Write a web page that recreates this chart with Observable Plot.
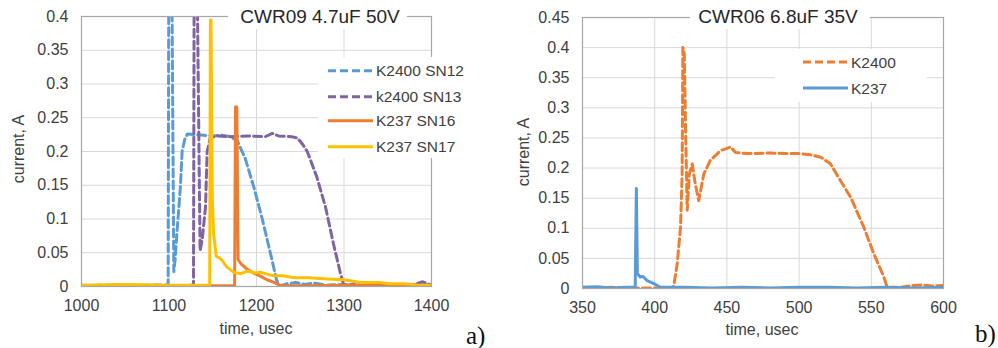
<!DOCTYPE html>
<html>
<head>
<meta charset="utf-8">
<script src="https://cdn.jsdelivr.net/npm/d3@7"></script>
<script src="https://cdn.jsdelivr.net/npm/@observablehq/plot@0.6"></script>
<style>
  html, body { margin: 0; padding: 0; background: #fff; }
  #wrap { position: relative; width: 998px; height: 348px; overflow: hidden; }
  #left, #right { position: absolute; top: 0; }
  #left { left: 0; }
  #right { left: 500px; }
</style>
</head>
<body>
<div id="wrap"><div id="left"></div><div id="right"></div></div>
<script>
// ---------- Panel a) CWR09 4.7uF 50V ----------
const xTicksA = [1000, 1100, 1200, 1300, 1400];
const yTicksA = [0, 0.05, 0.1, 0.15, 0.2, 0.25, 0.3, 0.35, 0.4];
const seriesNamesA = ["K2400 SN12", "k2400 SN13", "K237 SN16", "K237 SN17"];

const sn12T = [1000, 1020, 1040, 1060, 1080, 1099, 1100, 1102.5, 1105.5, 1107, 1109, 1113, 1115, 1118, 1121, 1130, 1140, 1150, 1160, 1170, 1178, 1187, 1197, 1206, 1216, 1223, 1227, 1235, 1245, 1255, 1265, 1280, 1300, 1320, 1340, 1360, 1380, 1400];
const sn12V = [0.002, 0.001, 0.002, 0.001, 0.002, 0.002, 0.6, 0.6, 0.022, 0.04, 0.078, 0.147, 0.2, 0.218, 0.226, 0.225, 0.224, 0.223, 0.224, 0.222, 0.216, 0.19, 0.147, 0.103, 0.049, 0.009, 0.001, 0.004, 0.006, 0.003, 0.005, 0.002, 0.003, 0.002, 0.004, 0.002, 0.003, 0.002];

const sn13T = [1000, 1030, 1060, 1090, 1110, 1128, 1129, 1131, 1135.5, 1138, 1141.7, 1143.6, 1147, 1155, 1170, 1190, 1210, 1218, 1225, 1240, 1247, 1253, 1258, 1269, 1279, 1288, 1296, 1300, 1310, 1320, 1330, 1340, 1360, 1380, 1390, 1400];
const sn13V = [0.001, 0.002, 0.001, 0.002, 0.001, 0.002, 0.6, 0.6, 0.053, 0.07, 0.117, 0.2, 0.22, 0.223, 0.222, 0.223, 0.222, 0.227, 0.223, 0.222, 0.22, 0.21, 0.2, 0.162, 0.117, 0.063, 0.019, 0.001, 0.003, 0.002, 0.006, 0.003, 0.002, 0.003, 0.007, 0.002];

const sn16T = [1000, 1050, 1100, 1150, 1175, 1176, 1177.5, 1179, 1182, 1189, 1198, 1205, 1212, 1220, 1228, 1260, 1300, 1350, 1400];
const sn16V = [0.001, 0.002, 0.001, 0.001, 0.001, 0.266, 0.266, 0.04, 0.034, 0.026, 0.019, 0.015, 0.01, 0.006, 0.001, 0.001, 0.002, 0.001, 0.002];

const sn17T = [1000, 1050, 1100, 1146.5, 1147.3, 1148, 1149.5, 1151, 1154, 1160, 1166, 1174, 1182, 1190, 1198, 1205, 1213, 1220, 1230, 1243, 1260, 1281, 1300, 1319, 1340, 1353, 1370, 1385, 1400];
const sn17V = [0.002, 0.003, 0.002, 0.002, 0.395, 0.395, 0.13, 0.078, 0.045, 0.04, 0.029, 0.021, 0.019, 0.023, 0.02, 0.021, 0.018, 0.016, 0.016, 0.013, 0.013, 0.011, 0.01, 0.006, 0.006, 0.004, 0.004, 0.002, 0.002];

// ---------- Panel b) CWR06 6.8uF 35V ----------
const xTicksB = [350, 400, 450, 500, 550, 600];
const yTicksB = [0, 0.05, 0.1, 0.15, 0.2, 0.25, 0.3, 0.35, 0.4, 0.45];
const seriesNamesB = ["K2400", "K237"];

const k2400T = [350, 360, 370, 380, 390, 400, 410, 413, 415.6, 417.9, 419, 419.5, 420.5, 421.5, 422.5, 424, 426, 428, 430.5, 434, 438.6, 445.6, 452.5, 456, 464, 480, 490, 501, 508, 515, 521.7, 528.7, 535.6, 544.8, 551.7, 558.7, 561, 570, 578, 585, 592, 600];
const k2400V = [0.002, 0.001, 0.002, 0.001, 0.001, 0.001, 0.001, 0.002, 0.041, 0.102, 0.19, 0.4, 0.39, 0.25, 0.13, 0.19, 0.207, 0.175, 0.146, 0.19, 0.213, 0.229, 0.235, 0.226, 0.224, 0.225, 0.224, 0.224, 0.222, 0.218, 0.207, 0.179, 0.152, 0.102, 0.058, 0.019, 0.002, 0.002, 0.005, 0.006, 0.004, 0.005];

const k237T = [350, 360, 370, 380, 386.5, 387.3, 388, 390, 392, 394.8, 399.4, 404, 420, 440, 460, 480, 500, 520, 540, 560, 580, 600];
const k237V = [0.002, 0.003, 0.001, 0.002, 0.002, 0.166, 0.025, 0.019, 0.02, 0.013, 0.008, 0.002, 0.002, 0.001, 0.002, 0.001, 0.002, 0.002, 0.001, 0.002, 0.001, 0.002];

// ---------- helpers ----------
const FONT = "'Liberation Sans', Arial, sans-serif";
const rows = (T, V) => T.map((t, i) => ({t, v: V[i]}));
const fmtY = d => d === 0 ? "0" : String(+d.toFixed(2));
const GRID = "#d9d9d9", FRAME = "#a6a6a6", TXT = "#404040";
const DASH = "8,4";
const LW = 3;

function panel({width, marginLeft, marginRight, marginTop, marginBottom, xDomain, yDomain, xTicks, yTicks, lines}) {
  return Plot.plot({
    width, height: 348, marginLeft, marginRight, marginTop, marginBottom,
    style: {fontFamily: FONT, fontSize: "16px", background: "transparent", overflow: "visible"},
    x: {domain: xDomain},
    y: {domain: yDomain},
    marks: [
      Plot.gridX(xTicks, {stroke: GRID, strokeOpacity: 1, strokeWidth: 1}),
      Plot.gridY(yTicks, {stroke: GRID, strokeOpacity: 1, strokeWidth: 1}),
      ...lines.map(l => Plot.line(rows(l.T, l.V), {x: "t", y: "v", stroke: l.color, strokeWidth: LW,
        strokeDasharray: l.dash ? DASH : null, strokeLinejoin: "round", clip: true})),
      Plot.frame({stroke: FRAME, strokeWidth: 1.2}),
      Plot.axisX(xTicks, {tickSize: 0, tickPadding: 13, tickFormat: d => String(d), label: null, color: TXT}),
      Plot.axisY(yTicks, {tickSize: 0, tickPadding: 13, tickFormat: fmtY, label: null, color: TXT})
    ]
  });
}

function decorate(svgNode, o) {
  const svg = d3.select(svgNode);
  // title with white backing over the top border
  svg.append("rect").attr("x", o.titleBox[0]).attr("y", 3).attr("width", o.titleBox[1] - o.titleBox[0]).attr("height", 26).attr("fill", "#fff");
  svg.append("text").attr("x", o.titleX).attr("y", 16).attr("dy", "0.36em").attr("text-anchor", "middle")
    .attr("font-family", FONT).attr("font-size", 19).attr("fill", "#262626").text(o.title);
  // legend
  svg.append("rect").attr("x", o.legBox[0]).attr("y", o.legBox[1]).attr("width", o.legBox[2]).attr("height", o.legBox[3]).attr("fill", "#fff");
  o.legend.forEach((it, i) => {
    const y = o.legY[i];
    svg.append("line").attr("x1", o.legX0).attr("x2", o.legX1).attr("y1", y).attr("y2", y)
      .attr("stroke", it.color).attr("stroke-width", LW).attr("stroke-dasharray", it.dash ? DASH : null);
    svg.append("text").attr("x", o.legX1 + 3).attr("y", y).attr("dy", "0.36em").attr("text-anchor", "start")
      .attr("font-family", FONT).attr("font-size", 15.5).attr("fill", TXT).text(it.name);
  });
  // axis titles
  svg.append("text").attr("x", o.xLabX).attr("y", o.xLabY).attr("dy", "0.36em").attr("text-anchor", "middle")
    .attr("font-family", FONT).attr("font-size", 16).attr("fill", TXT).text("time, usec");
  svg.append("text").attr("transform", `translate(${o.yLabX},${o.yLabY}) rotate(-90)`).attr("dy", "0.36em")
    .attr("text-anchor", "middle").attr("font-family", FONT).attr("font-size", 16).attr("fill", TXT).text("current, A");
  // panel tag
  svg.append("text").attr("x", o.tagX).attr("y", o.tagY).attr("text-anchor", "start")
    .attr("font-family", "'Liberation Serif', 'Times New Roman', serif")
    .attr("font-size", 25).attr("fill", "#111").text(o.tag);
}

const colorsA = ["#5b9bd5", "#8064a2", "#ed7d31", "#ffc000"];
const dashA = [true, true, false, false];
const dataA = [[sn12T, sn12V], [sn13T, sn13V], [sn16T, sn16V], [sn17T, sn17V]];
const linesA = dataA.map((d, i) => ({T: d[0], V: d[1], color: colorsA[i], dash: dashA[i], name: seriesNamesA[i]}));

const left = panel({width: 500, marginLeft: 81, marginRight: 69, marginTop: 16, marginBottom: 62,
  xDomain: [1000, 1400], yDomain: [0, 0.4], xTicks: xTicksA, yTicks: yTicksA, lines: linesA});
document.getElementById("left").appendChild(left);
decorate(left, {title: "CWR09 4.7uF 50V", titleX: 320, titleBox: [228, 407],
  legBox: [318, 57, 148, 101], legX0: 328, legX1: 373, legY: [70.7, 96.7, 120.7, 146.7], legend: linesA,
  xLabX: 256, xLabY: 328, yLabX: 18, yLabY: 149, tag: "a)", tagX: 466, tagY: 344});

const colorsB = ["#ed7d31", "#5b9bd5"];
const dashB = [true, false];
const dataB = [[k2400T, k2400V], [k237T, k237V]];
const linesB = dataB.map((d, i) => ({T: d[0], V: d[1], color: colorsB[i], dash: dashB[i], name: seriesNamesB[i]}));

const right = panel({width: 498, marginLeft: 82, marginRight: 55, marginTop: 17, marginBottom: 60,
  xDomain: [350, 600], yDomain: [0, 0.45], xTicks: xTicksB, yTicks: yTicksB, lines: linesB});
document.getElementById("right").appendChild(right);
decorate(right, {title: "CWR06 6.8uF 35V", titleX: 278, titleBox: [190, 370],
  legBox: [275, 49, 152, 53], legX0: 303, legX1: 348, legY: [62, 88], legend: linesB,
  xLabX: 262, xLabY: 329, yLabX: 23, yLabY: 152, tag: "b)", tagX: 475, tagY: 342});
</script>
</body>
</html>
